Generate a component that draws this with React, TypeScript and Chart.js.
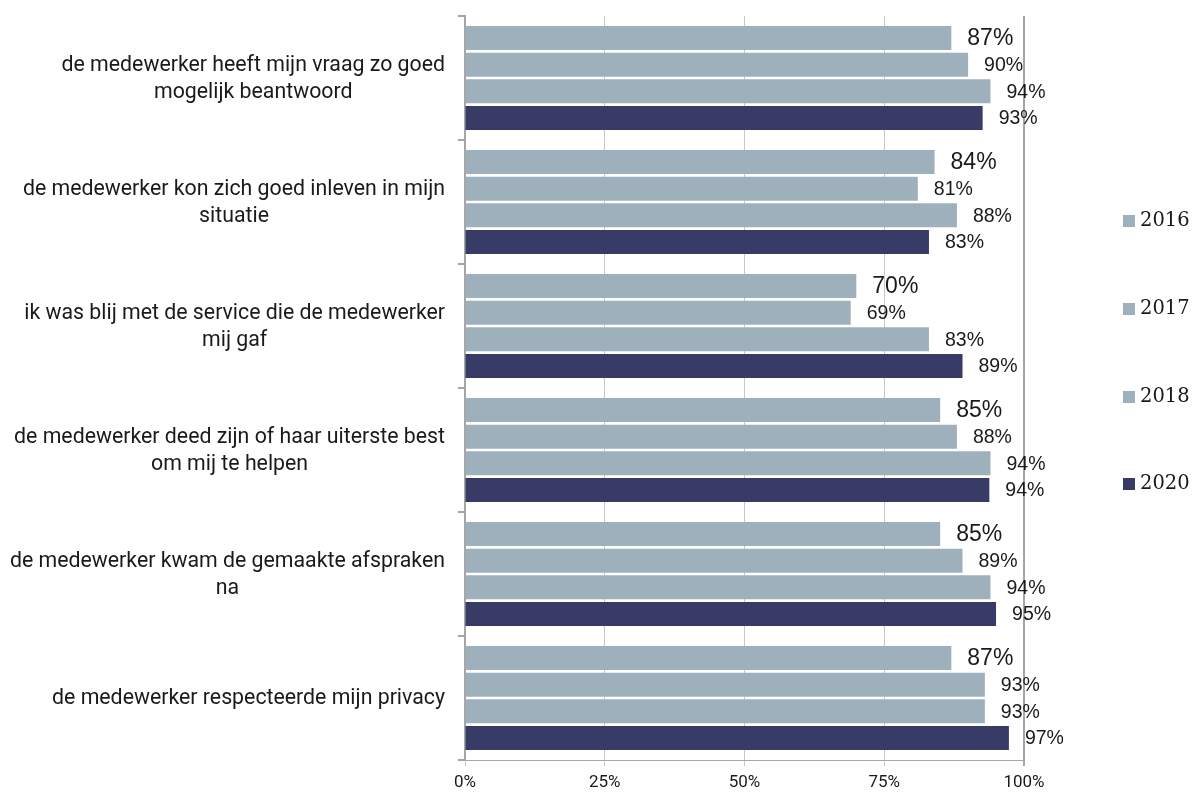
import React, { useEffect, useRef } from "react";
import { Chart, registerables } from "chart.js";

Chart.register(...registerables);

const categories: string[][] = [
  ["de medewerker heeft mijn vraag zo goed", "mogelijk beantwoord"],
  ["de medewerker kon zich goed inleven in mijn", "situatie"],
  ["ik was blij met de service die de medewerker", "mij gaf"],
  ["de medewerker deed zijn of haar uiterste best", "om mij te helpen"],
  ["de medewerker kwam de gemaakte afspraken", "na"],
  ["de medewerker respecteerde mijn privacy"],
];
const seriesNames = ["2016", "2017", "2018", "2020"];
const v2016 = [87, 84, 70, 85, 85, 87];
const v2017 = [90, 81, 69, 88, 89, 93];
const v2018 = [94, 88, 83, 94, 94, 93];
const v2020 = [92.6, 83, 89, 93.8, 95, 97.3];
const xTicks = [0, 25, 50, 75, 100];

const LIGHT = "#9FB0BD";
const DARK = "#383B66";
const colors = [LIGHT, LIGHT, LIGHT, DARK];

const labelPlugin = {
  id: "dataLabels",
  afterDatasetsDraw(chart: any) {
    const ctx = chart.ctx;
    ctx.save();
    ctx.fillStyle = "#1a1a1a";
    ctx.textBaseline = "middle";
    ctx.textAlign = "left";
    chart.data.datasets.forEach((ds: any, di: number) => {
      const meta = chart.getDatasetMeta(di);
      ctx.font = di === 0 ? "23px 'Liberation Sans'" : "19.5px 'Liberation Sans'";
      meta.data.forEach((bar: any, i: number) => {
        const v = Math.round(ds.data[i]);
        ctx.fillText(v + "%", bar.x + 16, bar.y + 1);
      });
    });
    ctx.restore();
  },
};

const catLabelPlugin = {
  id: "catLabels",
  afterDraw(chart: any) {
    const ctx = chart.ctx;
    const y = chart.scales.y;
    ctx.save();
    ctx.font = "21.3px Roboto";
    ctx.fillStyle = "#1a1a1a";
    ctx.textAlign = "center";
    ctx.textBaseline = "middle";
    const right = 445;
    const lh = 27;
    categories.forEach((lines, i) => {
      const cy = y.getPixelForValue(i) + 1;
      const maxW = Math.max(...lines.map((l) => ctx.measureText(l).width));
      const cx = right - maxW / 2;
      const top = cy - ((lines.length - 1) * lh) / 2;
      lines.forEach((l, k) => ctx.fillText(l, cx, top + k * lh));
    });
    ctx.restore();
  },
};

const legendPlugin = {
  id: "customLegend",
  afterDraw(chart: any) {
    const ctx = chart.ctx;
    ctx.save();
    ctx.font = "19.5px 'DejaVu Serif'";
    ctx.textBaseline = "middle";
    ctx.textAlign = "left";
    const ys = [221, 309, 397, 484];
    seriesNames.forEach((n, i) => {
      ctx.fillStyle = colors[i];
      ctx.fillRect(1123, ys[i] - 6, 12, 12);
      ctx.fillStyle = "#1a1a1a";
      ctx.fillText(n, 1140, ys[i]);
    });
    ctx.restore();
  },
};

export default function App() {
  const ref = useRef<HTMLCanvasElement | null>(null);
  useEffect(() => {
    if (!ref.current) return;
    const chart = new Chart(ref.current, {
      type: "bar",
      data: {
        labels: categories.map((c) => c.join(" ")),
        datasets: [v2016, v2017, v2018, v2020].map((d, i) => ({
          label: seriesNames[i],
          data: d,
          backgroundColor: colors[i],
          borderWidth: 0,
          categoryPercentage: 0.86,
          barPercentage: 0.9,
        })),
      },
      options: {
        indexAxis: "y",
        animation: false,
        responsive: true,
        maintainAspectRatio: false,
        layout: { padding: { top: 16, right: 172, left: 0, bottom: 0 } },
        plugins: { legend: { display: false }, tooltip: { enabled: false } },
        scales: {
          x: {
            min: 0,
            max: 100,
            afterBuildTicks: (s: any) => {
              s.ticks = xTicks.map((v) => ({ value: v }));
            },
            ticks: {
              callback: (v: any) => v + "%",
              font: { family: "Roboto", size: 17 },
              color: "#1a1a1a",
              padding: 7,
            },
            grid: {
              color: (c: any) => (c.tick && c.tick.value === 100 ? "#A6A6A6" : "#C8C8C8"),
              lineWidth: (c: any) => (c.tick && c.tick.value === 100 ? 2 : 1),
              tickLength: 6,
            },
            border: { color: "#A6A6A6", width: 1 },
            afterFit: (s: any) => {
              s.height = 32;
            },
          },
          y: {
            type: "category",
            ticks: { display: false },
            grid: {
              offset: true,
              drawOnChartArea: false,
              tickLength: 7,
              color: "#A6A6A6",
              lineWidth: 2,
            },
            border: { color: "#A6A6A6", width: 2 },
            afterFit: (s: any) => {
              s.width = 465;
            },
          },
        },
      },
      plugins: [labelPlugin, catLabelPlugin, legendPlugin],
    } as any);
    return () => chart.destroy();
  }, []);
  return (
    <div style={{ position: "fixed", left: 0, top: 0, width: 1196, height: 792, background: "#fff" }}>
      <canvas ref={ref} />
    </div>
  );
}
